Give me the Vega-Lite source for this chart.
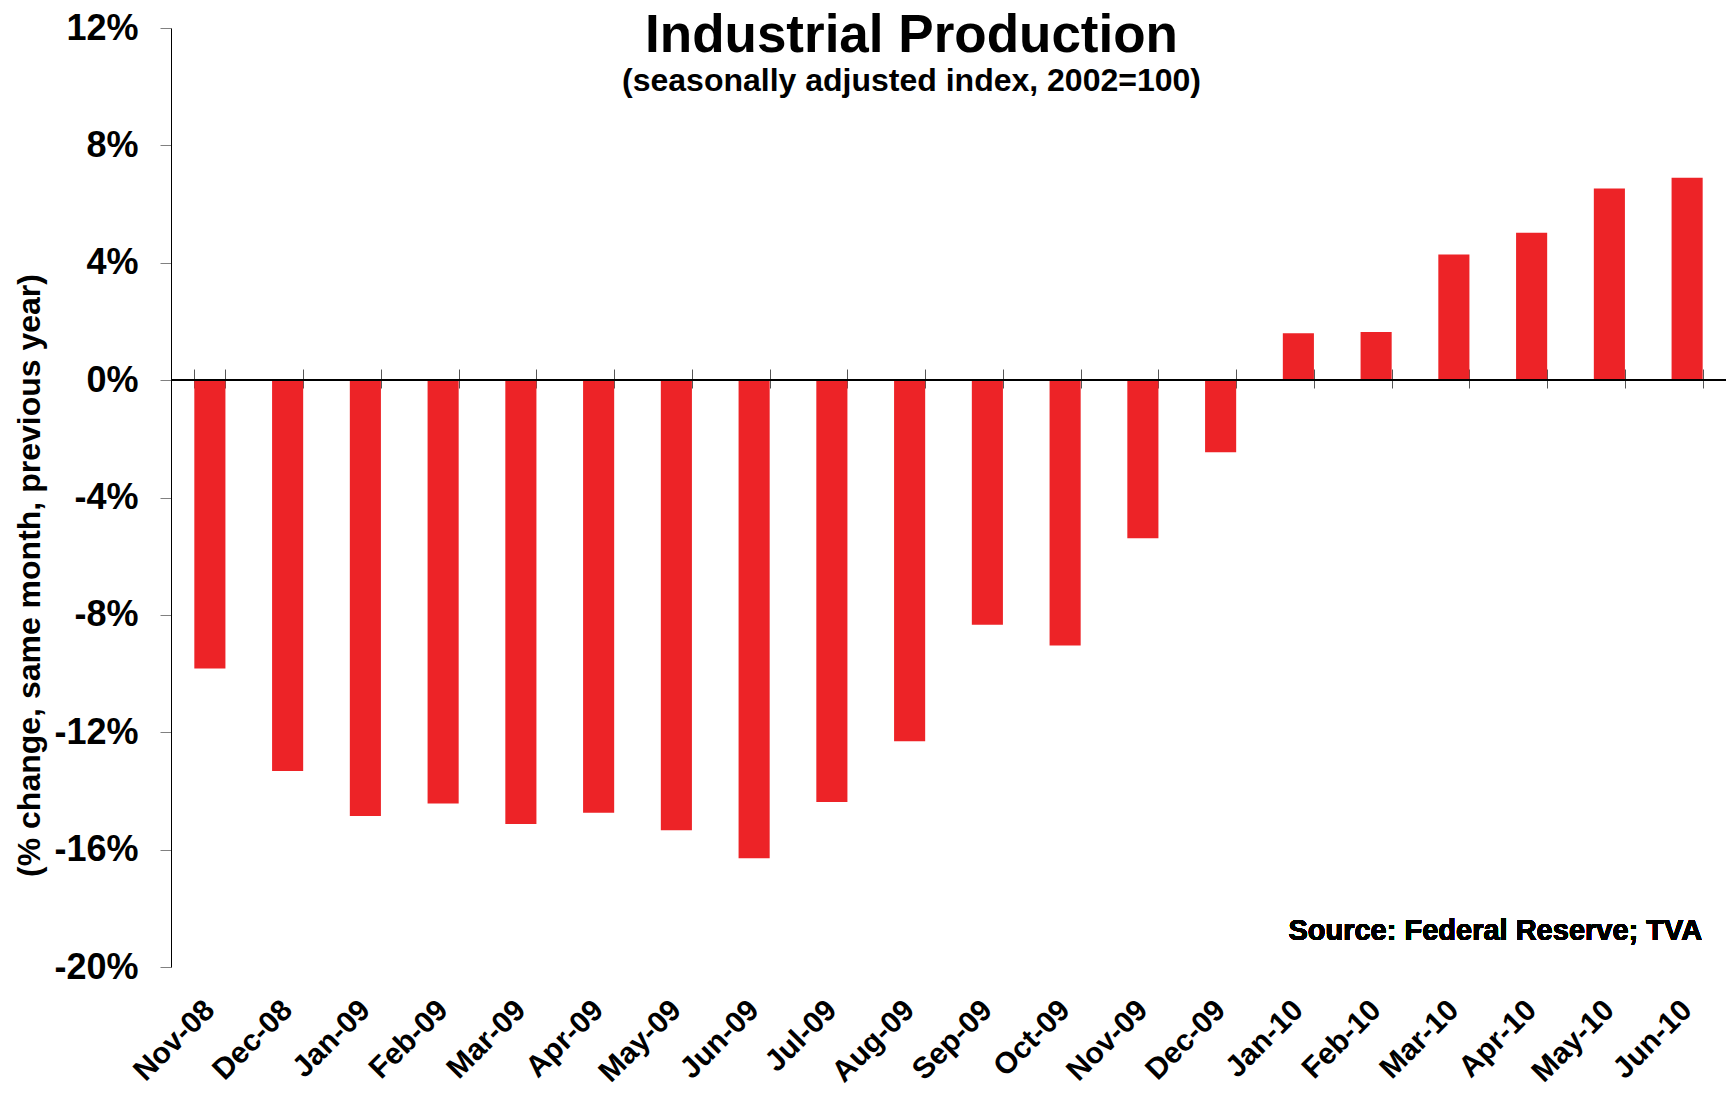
{
  "$schema": "https://vega.github.io/schema/vega-lite/v6.json",
  "autosize": "none",
  "width": 1555,
  "height": 939,
  "padding": {"left": 171, "top": 28, "right": 3, "bottom": 126},
  "background": "white",
  "config": {
    "font": "Liberation Sans",
    "view": {"stroke": null}
  },
  "title": {
    "text": "Industrial Production",
    "subtitle": "(seasonally adjusted index, 2002=100)",
    "font": "Liberation Sans",
    "subtitleFont": "Liberation Sans",
    "fontSize": 53,
    "subtitleFontSize": 32,
    "fontWeight": "bold",
    "subtitleFontWeight": "bold",
    "color": "black",
    "subtitleColor": "black",
    "anchor": "middle",
    "frame": "group",
    "dx": -37,
    "offset": -87,
    "subtitlePadding": 3
  },
  "data": {
    "values": [
      {"Month": "Nov-08", "Change": -9.83},
      {"Month": "Dec-08", "Change": -13.32},
      {"Month": "Jan-09", "Change": -14.85},
      {"Month": "Feb-09", "Change": -14.43},
      {"Month": "Mar-09", "Change": -15.13},
      {"Month": "Apr-09", "Change": -14.74},
      {"Month": "May-09", "Change": -15.34},
      {"Month": "Jun-09", "Change": -16.29},
      {"Month": "Jul-09", "Change": -14.38},
      {"Month": "Aug-09", "Change": -12.31},
      {"Month": "Sep-09", "Change": -8.34},
      {"Month": "Oct-09", "Change": -9.04},
      {"Month": "Nov-09", "Change": -5.39},
      {"Month": "Dec-09", "Change": -2.46},
      {"Month": "Jan-10", "Change": 1.60},
      {"Month": "Feb-10", "Change": 1.64},
      {"Month": "Mar-10", "Change": 4.28},
      {"Month": "Apr-10", "Change": 5.02},
      {"Month": "May-10", "Change": 6.53},
      {"Month": "Jun-10", "Change": 6.90}
    ]
  },
  "resolve": {"axis": {"x": "independent"}},
  "layer": [
    {
      "mark": {"type": "bar", "color": "#ED2327"},
      "encoding": {
        "x": {
          "field": "Month",
          "type": "nominal",
          "sort": null,
          "scale": {"paddingInner": 0.6, "paddingOuter": 0.3},
          "axis": {
            "orient": "bottom",
            "title": null,
            "domain": false,
            "ticks": false,
            "grid": false,
            "labelAngle": -45,
            "labelAlign": "right",
            "labelBaseline": "middle",
            "labelFontSize": 30,
            "labelFontWeight": "bold",
            "labelColor": "black",
            "labelPadding": 38
          }
        },
        "y": {
          "field": "Change",
          "type": "quantitative",
          "scale": {"domain": [-20, 12], "nice": false, "zero": false},
          "axis": {
            "values": [-20, -16, -12, -8, -4, 0, 4, 8, 12],
            "labelExpr": "datum.value + '%'",
            "grid": false,
            "domainColor": "black",
            "domainWidth": 1,
            "tickColor": "#808080",
            "tickSize": 11,
            "labelFontSize": 36,
            "labelFontWeight": "bold",
            "labelColor": "black",
            "labelPadding": 22,
            "labelBaseline": "middle",
            "title": "(% change, same month, previous year)",
            "titleFontSize": 32,
            "titleFontWeight": "bold",
            "titleColor": "black",
            "titleAngle": -90,
            "titleX": -142,
            "titleY": 547,
            "titleAlign": "center",
            "titleBaseline": "middle"
          }
        }
      }
    },
    {
      "mark": {"type": "rule", "color": "black", "strokeWidth": 1.5},
      "encoding": {
        "y": {"datum": 0, "type": "quantitative"}
      }
    },
    {
      "mark": {
        "type": "text",
        "text": "Source: Federal Reserve; TVA",
        "align": "right",
        "baseline": "alphabetic",
        "dx": 15,
        "fontSize": 29,
        "fontWeight": "bold",
        "color": "black"
      },
      "encoding": {
        "x": {
          "datum": "Jun-10",
          "type": "nominal",
          "axis": {
            "orient": "bottom",
            "offset": -598,
            "title": null,
            "labels": false,
            "domain": false,
            "grid": false,
            "ticks": true,
            "tickBand": "extent",
            "tickSize": 19,
            "tickColor": "#555555",
            "tickWidth": 1
          }
        },
        "y": {"datum": -19.07, "type": "quantitative"}
      }
    }
  ]
}
